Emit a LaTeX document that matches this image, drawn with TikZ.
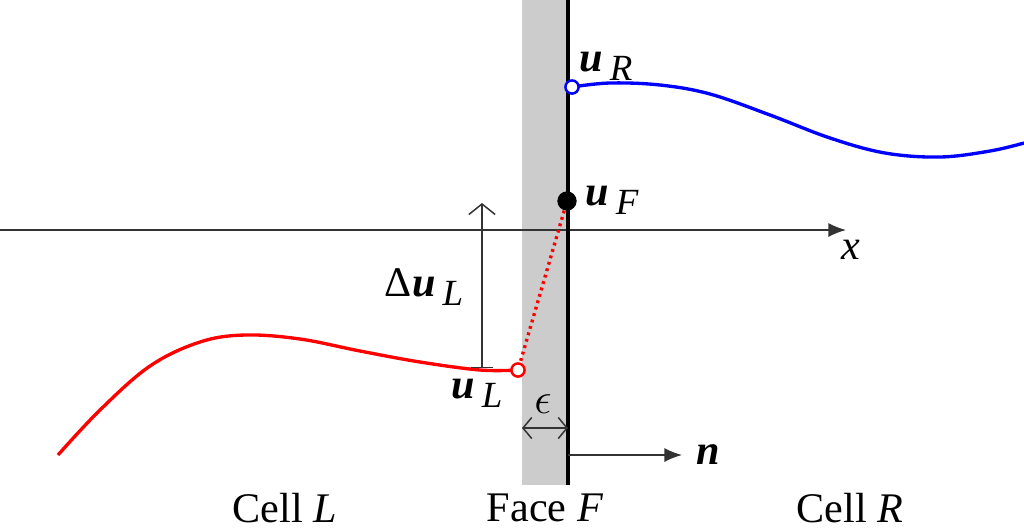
\documentclass[tikz,border=0pt]{standalone}
\usepackage{fontspec}
\setmainfont{Liberation Serif}
\usetikzlibrary{arrows.meta}

\newcommand{\vecu}[1]{\textbf{\textit{u}}\,\raisebox{-0.45ex}{\fontsize{21}{22}\selectfont\textit{#1}}}

\begin{document}
\begin{tikzpicture}[x=0.02cm, y=-0.02cm,
    lbl/.style={font=\fontsize{24}{28}\selectfont, inner sep=1pt},
    curve/.style={line width=1.9pt},
    opendot/.style={circle, draw, line width=1.4pt, fill=white, inner sep=0pt, minimum size=7.5pt},
    thinline/.style={line width=0.85pt, draw=black!80}]
    \useasboundingbox (0,0) rectangle (1024,529);

    % face band
    \fill[gray!40] (522,0) rectangle (568,485);

    % x axis
    \coordinate (xs) at (0,230);
    \coordinate (xe) at (846,230);
    \draw[thinline, -{Latex[length=10pt, width=8pt]}] (xs) -- (xe);
    \node[lbl] (xlab) at (851,250) {\textit{x}};

    % face line
    \coordinate (ftop) at (568,0);
    \coordinate (fbot) at (568,485);
    \draw[line width=2.3pt] (ftop) -- (fbot);

    % right state
    \draw[curve, blue] plot[smooth, tension=0.6] coordinates {(572,87) (610,83) (660,85) (710,94) (770,115) (830,138) (885,153) (940,157) (990,151) (1024,143)};
    \node[opendot, draw=blue] (uR) at (572,87) {};
    \node[lbl] (uRlab) at (606,66) {\vecu{R}};

    % left state
    \draw[curve, red] plot[smooth, tension=0.6] coordinates {(58,455) (100,410) (150,366) (200,342) (245,335) (300,339) (360,351) (420,362) (480,370) (518,370)};
    \node[opendot, draw=red] (uL) at (518,370) {};
    \node[lbl] (uLlab) at (477,393) {\vecu{L}};

    % face state
    \node[circle, fill=black, inner sep=0pt, minimum size=11pt] (uF) at (567,201) {};
    \node[lbl] (uFlab) at (612,200) {\vecu{F}};
    \draw[curve, red, dash pattern=on 1.6pt off 2.2pt] (uF) -- (uL);

    % jump
    \coordinate (jb) at (482,368);
    \coordinate (jt) at (482,203);
    \draw[thinline, {Bar[width=13pt]}-{Straight Barb[length=6pt, width=15pt]}] (jb) -- (jt);
    \node[lbl] (jlab) at (424,287) {Δ\vecu{L}};

    % epsilon
    \coordinate (ea) at (522,428);
    \coordinate (eb) at (568,428);
    \draw[thinline, {Straight Barb[length=5pt, width=12pt]}-{Straight Barb[length=5pt, width=12pt]}] (ea) -- (eb);
    \node[lbl, font=\fontsize{30}{32}\selectfont] (elab) at (543,404) {$\epsilon$};

    % normal
    \coordinate (na) at (568,455);
    \coordinate (nb) at (682,455);
    \draw[thinline, -{Latex[length=10pt, width=8pt]}] (na) -- (nb);
    \node[lbl] (nlab) at (708,455) {\textbf{\textit{n}}};

    % captions
    \node[lbl] (cellL) at (285,508) {Cell \textit{L}};
    \node[lbl] (faceF) at (545,508) {Face \textit{F}};
    \node[lbl] (cellR) at (850,508) {Cell \textit{R}};
\end{tikzpicture}
\end{document}
